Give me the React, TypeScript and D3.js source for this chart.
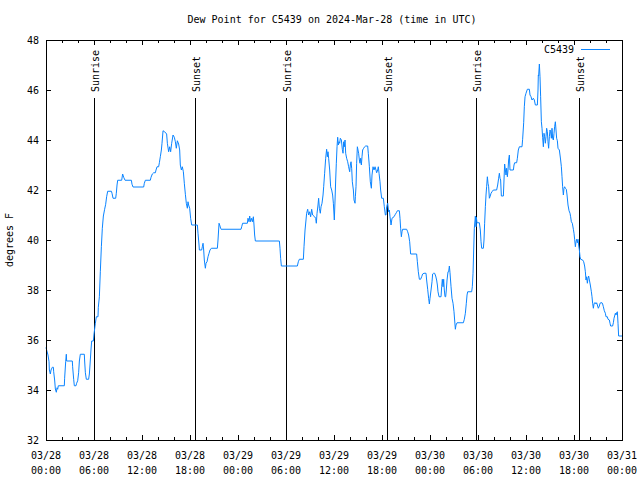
import React from "react";
import * as d3 from "d3";

const title = "Dew Point for C5439 on 2024-Mar-28 (time in UTC)";
const yLabel = "degrees F";
const seriesName = "C5439";

// hours since 2024-03-28 00:00 UTC
const hours = [
  0, 0.08, 0.25, 0.38, 0.42, 0.54, 0.63, 0.79, 0.92, 0.96, 1.08, 1.17, 1.29, 1.38, 1.46, 1.54, 2.29, 2.33, 2.46, 2.54, 2.58,
  3.29, 3.33, 3.46, 3.54, 3.75, 3.83, 3.96, 4.08, 4.17, 4.29, 4.79, 4.83, 4.92, 5.04, 5.33, 5.42, 5.5, 5.63, 5.71, 5.92,
  6.0, 6.17, 6.29, 6.5, 6.54, 6.67, 6.79, 6.92, 7.04, 7.17, 7.33, 7.46, 7.58, 7.71, 8.17, 8.25, 8.38, 8.71, 8.79, 8.88,
  8.96, 9.46, 9.58, 9.71, 9.88, 10.67, 10.75, 10.88, 12.21, 12.29, 12.42, 13.04, 13.13, 13.29, 13.46, 13.67, 13.75, 13.88,
  14.08, 14.17, 14.29, 14.42, 14.5, 14.63, 14.83, 15.08, 15.17, 15.33, 15.46, 15.58, 15.71, 15.88, 16.04, 16.17, 16.29,
  16.42, 16.58, 16.71, 16.79, 16.92, 17.04, 17.17, 17.29, 17.42, 17.54, 17.67, 17.75, 17.83, 17.96, 18.08, 18.21, 18.92,
  19.0, 19.13, 19.17, 19.46, 19.54, 19.63, 19.71, 19.79, 19.92, 20.0, 20.13, 20.25, 20.38, 20.5, 20.67, 21.42, 21.5, 21.63,
  21.71, 21.83, 21.88, 24.38, 24.46, 24.58, 25.17, 25.25, 25.38, 25.46, 25.58, 25.71, 25.83, 25.92, 26.0, 26.08, 26.17,
  29.17, 29.25, 29.33, 29.42, 31.42, 31.54, 31.67, 32.17, 32.25, 32.38, 32.5, 32.58, 32.71, 32.83, 32.96, 33.08, 33.21,
  33.33, 33.58, 33.71, 33.79, 33.88, 34.0, 34.08, 34.17, 34.29, 34.38, 34.5, 34.63, 34.71, 34.83, 34.96, 35.08, 35.17,
  35.25, 35.33, 35.46, 35.58, 35.71, 35.83, 35.92, 36.04, 36.13, 36.21, 36.29, 36.38, 36.46, 36.54, 36.63, 36.71, 36.79,
  36.92, 37.04, 37.13, 37.21, 37.29, 37.38, 37.46, 37.58, 37.71, 37.83, 37.96, 38.04, 38.13, 38.21, 38.29, 38.42, 38.5,
  38.63, 38.67, 38.75, 38.83, 38.92, 39.0, 39.08, 39.17, 39.25, 39.33, 39.42, 39.5, 39.58, 39.71, 39.83, 39.96, 40.21,
  40.29, 40.42, 40.54, 40.67, 40.75, 40.88, 41.0, 41.13, 41.25, 41.33, 41.46, 41.54, 41.63, 41.75, 41.83, 41.96, 42.17,
  42.29, 42.42, 42.5, 42.58, 42.71, 42.83, 42.92, 43.0, 43.13, 43.25, 43.5, 43.67, 43.79, 43.92, 44.17, 44.25, 44.33,
  44.42, 44.5, 44.58, 45.08, 45.21, 45.33, 45.46, 45.58, 46.33, 46.42, 46.54, 46.67, 46.83, 46.96, 47.08, 47.25, 47.5,
  47.58, 47.71, 47.83, 47.92, 48.0, 48.13, 48.25, 48.33, 48.46, 48.58, 48.71, 48.83, 48.92, 49.0, 49.13, 49.38, 49.46,
  49.54, 49.63, 49.71, 49.79, 49.88, 49.96, 50.04, 50.13, 50.25, 50.33, 50.42, 50.5, 50.63, 50.75, 50.88, 51.0, 51.08,
  51.17, 51.25, 51.38, 52.17, 52.29, 52.42, 52.54, 52.63, 52.71, 53.21, 53.29, 53.38, 53.46, 53.54, 53.67, 53.75, 53.79,
  53.88, 54.17, 54.29, 54.38, 54.46, 54.67, 54.75, 54.83, 54.92, 55.0, 55.08, 55.17, 55.25, 55.33, 55.42, 55.5, 55.63,
  55.75, 55.92, 56.33, 56.46, 56.58, 56.67, 56.75, 56.83, 56.92, 57.17, 57.25, 57.33, 57.42, 57.5, 57.58, 57.67, 57.75,
  57.83, 57.92, 58.0, 58.42, 58.5, 58.58, 58.83, 58.92, 59.04, 59.17, 59.5, 59.58, 59.71, 59.79, 59.88, 60.0, 60.17,
  60.42, 60.5, 60.63, 60.75, 60.92, 61.04, 61.17, 61.42, 61.5, 61.54, 61.58, 61.67, 61.75, 61.83, 61.92, 62.0, 62.08,
  62.17, 62.25, 62.33, 62.42, 62.5, 62.58, 62.67, 62.75, 62.83, 62.92, 63.0, 63.08, 63.17, 63.25, 63.33, 63.42, 63.5,
  63.58, 63.67, 63.75, 63.83, 63.92, 64.0, 64.17, 64.25, 64.33, 64.42, 64.5, 64.58, 64.67, 64.75, 64.83, 64.92, 65.04,
  65.13, 65.25, 65.38, 65.5, 65.58, 65.67, 65.79, 65.92, 66.0, 66.08, 66.17, 66.25, 66.33, 66.42, 66.5, 66.58, 66.67,
  66.75, 66.83, 67.08, 67.21, 67.33, 67.42, 67.5, 67.58, 67.67, 67.75, 67.83, 67.92, 68.04, 68.17, 68.25, 68.33, 68.42,
  68.5, 68.58, 68.67, 68.75, 68.83, 68.92, 69.04, 69.17, 69.25, 69.38, 69.5, 69.58, 69.67, 69.79, 69.92, 70.0, 70.17,
  70.25, 70.42, 70.5, 70.58, 70.83, 70.92, 71.0, 71.08, 71.17, 71.25, 71.33, 71.42, 71.5, 71.58, 72.0,
];

const dewPoint = [
  35.7, 35.6, 35.4, 35.13, 34.8, 34.64, 34.8, 34.91, 34.91, 34.73, 34.4, 34.04, 33.91, 34.09, 34.03, 34.17, 34.17, 34.47, 35.13, 35.43, 35.16,
  35.16, 34.93, 34.43, 34.17, 34.17, 34.27, 34.37, 34.69, 35.16, 35.43, 35.43, 35.16, 34.69, 34.43, 34.43, 34.64, 35.0, 35.64, 35.96, 35.96,
  36.24, 36.67, 36.93, 36.93, 37.31, 37.73, 38.73, 39.73, 40.47, 40.96, 41.23, 41.43, 41.73, 41.95, 41.95, 41.87, 41.67, 41.67, 41.87, 42.2,
  42.39, 42.39, 42.64, 42.51, 42.39, 42.39, 42.23, 42.12, 42.12, 42.27, 42.39, 42.39, 42.51, 42.64, 42.69, 42.69, 42.8, 42.93,
  42.93, 43.09, 43.33, 43.6, 43.87, 44.37, 44.33, 44.24, 43.87, 43.53, 43.73, 43.53, 43.87, 44.2, 44.11, 43.93, 43.67,
  43.97, 43.84, 43.6, 43.0, 42.8, 42.93, 42.73, 42.27, 41.83, 41.47, 41.27, 41.53, 41.4, 41.27, 40.87, 40.6, 40.6,
  40.27, 39.8, 39.6, 39.6, 39.73, 39.87, 39.6, 39.2, 38.87, 39.07, 39.13, 39.33, 39.47, 39.6, 39.67, 39.67, 40.0, 40.67,
  40.6, 40.47, 40.43, 40.43, 40.53, 40.67, 40.67, 40.87, 40.73, 40.96, 40.73, 40.87, 40.73, 40.93, 40.6, 40.2, 39.96,
  39.96, 39.67, 39.27, 38.96, 38.96, 39.13, 39.23, 39.23, 39.73, 40.4, 40.8, 41.07, 41.23, 41.0, 41.13, 40.93, 41.23,
  41.0, 40.93, 40.87, 40.67, 41.07, 41.4, 41.67, 41.27, 41.07, 41.33, 41.47, 41.8, 42.13, 42.67, 43.27, 43.63, 43.33,
  43.53, 43.27, 42.8, 42.13, 42.0, 41.8, 41.47, 40.8, 41.6, 42.4, 43.07, 43.73, 44.11, 43.8, 43.93, 43.87, 44.07,
  44.0, 43.63, 43.47, 43.93, 43.73, 44.0, 43.47, 43.27, 43.13, 42.93, 42.73, 43.0, 43.13, 42.87, 42.33, 42.0, 41.6,
  41.47, 41.73, 42.13, 43.07, 43.73, 43.6, 43.47, 43.2, 43.07, 43.27, 43.0, 43.33, 43.6, 43.67, 43.73, 43.76, 43.76,
  43.47, 42.93, 42.33, 42.07, 42.6, 42.93, 42.8, 42.93, 42.8, 42.69, 42.8, 42.93, 42.67, 42.33, 42.0, 41.67, 41.67,
  41.33, 41.0, 41.0, 41.33, 41.47, 41.13, 41.2, 40.93, 40.6, 40.87, 40.93, 41.03, 41.09, 41.17, 41.17, 40.87, 40.47,
  40.13, 40.33, 40.43, 40.43, 40.33, 40.2, 39.93, 39.44, 39.44, 39.13, 38.73, 38.43, 38.43, 38.53, 38.64, 38.67, 38.67,
  38.4, 38.03, 37.67, 37.44, 37.67, 38.0, 38.33, 38.64, 38.67, 38.67, 38.56, 38.4, 38.2, 37.93, 37.73, 37.73, 38.13,
  38.43, 38.13, 38.43, 38.0, 37.73, 37.73, 38.0, 38.4, 38.73, 38.73, 38.96, 38.69, 38.13, 37.67, 37.47, 37.13, 36.8,
  36.43, 36.6, 36.69, 36.69, 36.83, 37.07, 37.47, 37.8, 37.93, 37.93, 38.13, 38.67, 39.6, 40.47, 40.96, 40.53, 40.91,
  40.69, 40.69, 40.4, 39.93, 39.67, 39.67, 40.0, 40.67, 41.33, 41.8, 42.13, 42.53, 42.27, 42.13, 41.67, 41.73, 41.87,
  41.93, 42.0, 42.0, 42.2, 42.47, 42.67, 42.47, 42.4, 41.76, 41.76, 42.4, 43.04, 42.8, 42.6, 42.87, 42.53, 42.8,
  43.2, 43.4, 42.8, 42.8, 43.0, 43.09, 43.09, 43.27, 43.6, 43.73, 43.73, 44.03, 44.69, 45.33, 45.73, 45.87, 46.03,
  46.03, 45.8, 45.73, 45.6, 45.67, 45.6, 45.4, 45.4, 46.0, 46.6, 46.56, 47.04, 46.53, 45.73, 44.73, 44.47, 44.11,
  43.73, 44.27, 44.13, 43.87, 44.13, 44.47, 44.33, 43.93, 43.67, 44.13, 44.4, 44.33, 44.07, 44.47, 44.07, 44.0, 44.27,
  44.53, 44.73, 44.4, 44.07, 43.97, 43.67, 43.6, 43.4, 43.2, 42.93, 42.53, 42.13, 41.8, 42.07, 42.13, 42.07, 42.03,
  41.8, 41.4, 41.17, 41.07, 40.93, 40.73, 40.67, 40.43, 40.27, 40.03, 39.73, 39.93, 40.03, 39.89, 40.03, 39.8, 39.6,
  39.33, 39.23, 39.2, 39.13, 38.96, 38.73, 38.4, 38.53, 38.27, 38.47, 38.56, 38.4, 38.2, 37.93, 37.73, 37.47, 37.27,
  37.44, 37.49, 37.49, 37.44, 37.49, 37.4, 37.27, 37.36, 37.47, 37.49, 37.49, 37.44, 37.33, 37.17, 37.07, 36.93, 36.93,
  36.83, 36.8, 36.67, 36.56, 36.56, 36.69, 36.87, 36.96, 37.07, 37.0, 37.09, 37.13, 36.67, 36.16, 36.16,
];

const sunEventHours = [6.04, 18.67, 29.96, 42.67, 53.79, 66.67];
const sunEventLabels = ["Sunrise", "Sunset", "Sunrise", "Sunset", "Sunrise", "Sunset"];

const xTickHours = [0, 6, 12, 18, 24, 30, 36, 42, 48, 54, 60, 66, 72];
const xTickDates = ["03/28", "03/28", "03/28", "03/28", "03/29", "03/29", "03/29", "03/29", "03/30", "03/30", "03/30", "03/30", "03/31"];
const xTickTimes = ["00:00", "06:00", "12:00", "18:00", "00:00", "06:00", "12:00", "18:00", "00:00", "06:00", "12:00", "18:00", "00:00"];
const yTicks = [32, 34, 36, 38, 40, 42, 44, 46, 48];

const W = 640;
const H = 480;
const L = 46;
const R = 622;
const T = 40;
const B = 440;
const FONT = "'DejaVu Sans Mono', monospace";
const LINE_COLOR = "#0a84ff";

export default function App() {
  const x = d3.scaleLinear().domain([0, 72]).range([L, R]);
  const y = d3.scaleLinear().domain([32, 48]).range([B, T]);
  const pts = hours.map((h, i) => [h, dewPoint[i]] as [number, number]);
  const line = d3
    .line<[number, number]>()
    .x((d) => x(d[0]))
    .y((d) => y(d[1]));
  const minor = d3.range(0, 73, 2).filter((h) => h % 6 !== 0);
  const px = (v: number) => Math.round(v) + 0.5;

  return (
    <svg
      width={W}
      height={H}
      style={{ position: "absolute", left: 0, top: 0, background: "#fff" }}
      fontFamily={FONT}
      fontSize={10}
    >
      <rect x={0} y={0} width={W} height={H} fill="#fff" />
      <text x={332} y={23} textAnchor="middle" fill="#000">
        {title}
      </text>

      <g stroke="#000" strokeWidth={1} shapeRendering="crispEdges">
        {xTickHours.map((h) => (
          <g key={"xt" + h}>
            <line x1={px(x(h))} x2={px(x(h))} y1={B} y2={B - 5} />
            <line x1={px(x(h))} x2={px(x(h))} y1={T} y2={T + 5} />
          </g>
        ))}
        {minor.map((h) => (
          <g key={"xm" + h}>
            <line x1={px(x(h))} x2={px(x(h))} y1={B} y2={B - 3} />
            <line x1={px(x(h))} x2={px(x(h))} y1={T} y2={T + 3} />
          </g>
        ))}
        {yTicks.map((v) => (
          <g key={"yt" + v}>
            <line x1={L} x2={L + 5} y1={px(y(v))} y2={px(y(v))} />
            <line x1={R} x2={R - 5} y1={px(y(v))} y2={px(y(v))} />
          </g>
        ))}
      </g>

      <g fill="#000">
        {yTicks.map((v) => (
          <text key={"yl" + v} x={39} y={y(v) + 4} textAnchor="end">
            {v}
          </text>
        ))}
        {xTickHours.map((h, i) => (
          <g key={"xl" + h}>
            <text x={x(h)} y={459} textAnchor="middle">
              {xTickDates[i]}
            </text>
            <text x={x(h)} y={474} textAnchor="middle">
              {xTickTimes[i]}
            </text>
          </g>
        ))}
        <text transform={`translate(13,${(T + B) / 2}) rotate(-90)`} textAnchor="middle">
          {yLabel}
        </text>
      </g>

      {sunEventHours.map((h, i) => (
        <g key={"sun" + i}>
          <line
            x1={px(x(h))}
            x2={px(x(h))}
            y1={B}
            y2={98}
            stroke="#000"
            strokeWidth={1}
            shapeRendering="crispEdges"
          />
          <text
            transform={`translate(${x(h) + 1.5},92) rotate(-90)`}
            dy="0.35em"
            fill="#000"
          >
            {sunEventLabels[i]}
          </text>
        </g>
      ))}

      <path d={line(pts) || ""} fill="none" stroke={LINE_COLOR} strokeWidth={1} />

      <text x={574} y={53} textAnchor="end" fill="#000">
        {seriesName}
      </text>
      <line x1={581} x2={610} y1={49.5} y2={49.5} stroke={LINE_COLOR} strokeWidth={1} shapeRendering="crispEdges" />

      <rect
        x={L + 0.5}
        y={T + 0.5}
        width={R - L}
        height={B - T}
        fill="none"
        stroke="#000"
        strokeWidth={1}
        shapeRendering="crispEdges"
      />
    </svg>
  );
}
